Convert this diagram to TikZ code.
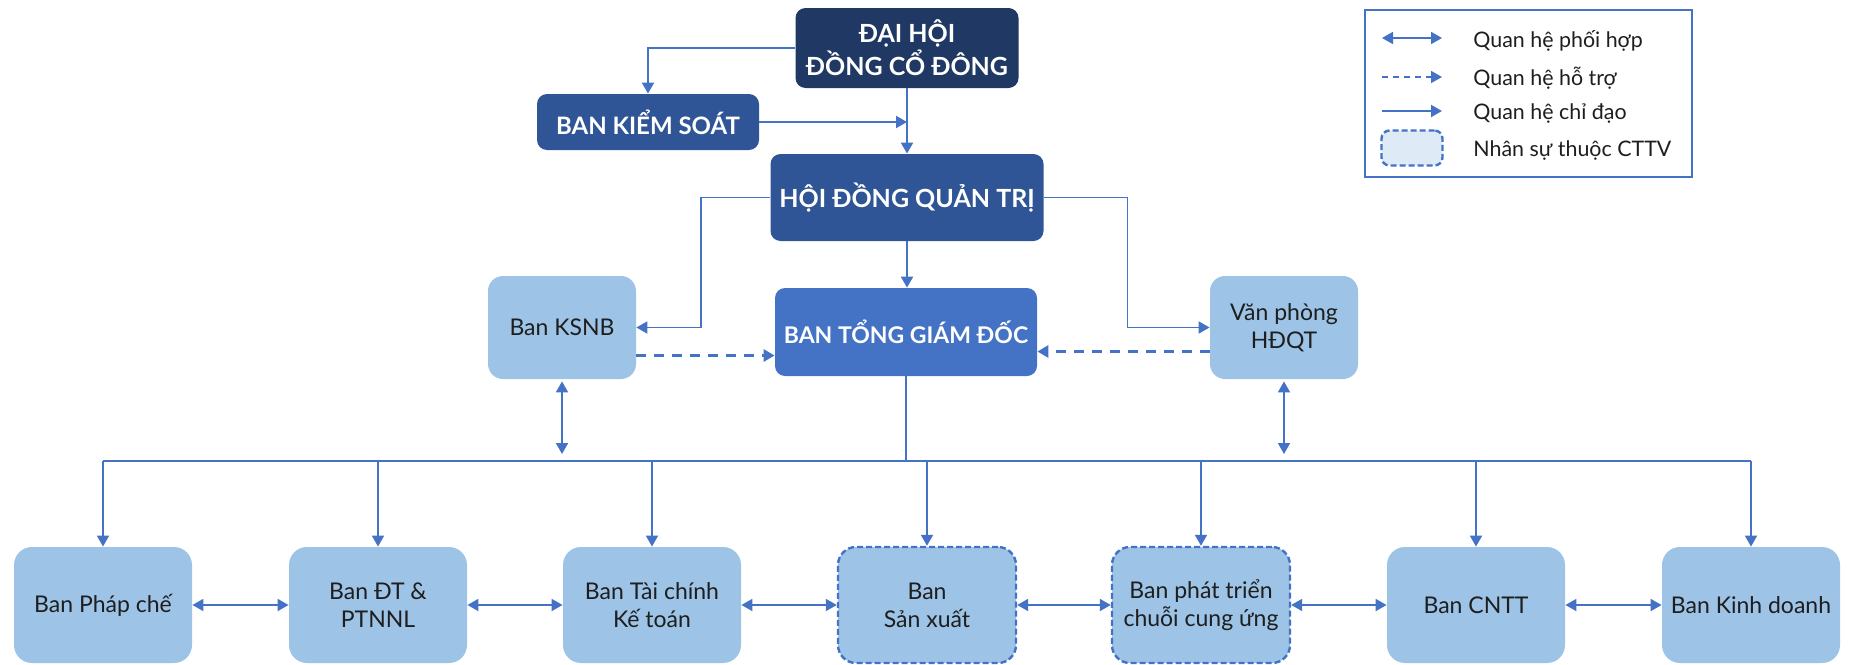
\documentclass[tikz,border=0pt]{standalone}
\usepackage{fontspec}
\setmainfont{Lato}
\usetikzlibrary{positioning,arrows.meta}

\definecolor{navy}{HTML}{203864}
\definecolor{midblue}{HTML}{2F5597}
\definecolor{ceoblue}{HTML}{4472C4}
\definecolor{lightblue}{HTML}{9DC3E6}
\definecolor{paleblue}{HTML}{DEEBF7}
\definecolor{linkblue}{HTML}{4472C4}
\definecolor{textgray}{HTML}{1E1E1E}

\begin{document}
\begin{tikzpicture}[x=0.5pt,y=-0.5pt,
  head/.style={rounded corners=5pt, text=white, font=\fontsize{12.5}{16.5}\selectfont\bfseries, align=center, inner sep=0pt},
  unit/.style={rounded corners=7.5pt, fill=lightblue, text=textgray, font=\fontsize{11.5}{14}\selectfont, align=center, minimum width=74pt, minimum height=51.5pt, inner sep=0pt},
  dept/.style={unit, rounded corners=9pt, minimum width=89pt, minimum height=58pt},
  sub/.style={draw=linkblue, dash pattern=on 3pt off 1.5pt, line width=1.2pt},
  note/.style={anchor=west, inner sep=0pt, text=textgray, font=\fontsize{10.7}{12}\selectfont},
  link/.style={linkblue, line width=0.9pt},
  lead/.style={linkblue, line width=1.1pt, -{Triangle[length=5.5pt,width=6pt]}},
  coop/.style={linkblue, line width=0.9pt, {Triangle[length=5.5pt,width=6pt]}-{Triangle[length=5.5pt,width=6pt]}},
  help/.style={linkblue, line width=1.5pt, dash pattern=on 5pt off 4pt, -{Triangle[length=5.5pt,width=6pt]}}]
  \useasboundingbox (0,0) rectangle (1852,664);

  % top of the chart
  \node[head, fill=navy, minimum width=111.5pt, minimum height=40pt] (dhcd) at (907,48) {ĐẠI HỘI\\ĐỒNG CỔ ĐÔNG};
  \node[head, fill=midblue, minimum width=111pt, minimum height=28pt, font=\fontsize{12}{14}\selectfont\bfseries] (bks) at (648,122) {BAN KIỂM SOÁT};
  \node[head, fill=midblue, minimum width=136.5pt, minimum height=43.5pt] (hdqt) at (907,197.5) {HỘI ĐỒNG QUẢN TRỊ};
  \node[head, fill=ceoblue, minimum width=131pt, minimum height=44pt, font=\fontsize{11.5}{14}\selectfont\bfseries] (btgd) at (906,332) {BAN TỔNG GIÁM ĐỐC};
  \node[unit] (ksnb) at (562,327.5) {Ban KSNB};
  \node[unit] (vp) at (1284,327.5) {Văn phòng\\HĐQT};

  \draw[lead] (dhcd.west) -| (bks.north);
  \draw[lead] (dhcd.south) -- (hdqt.north);
  \draw[lead] (bks.east) -- (bks.east -| hdqt.north);
  \draw[lead] (hdqt.south) -- (hdqt.south |- btgd.north);
  \draw[lead, line width=0.9pt] (hdqt.west) -- ++(-69,0) |- (ksnb.east);
  \draw[lead, line width=0.9pt] (hdqt.east) -- ++(83.5,0) |- (vp.west);
  \draw[help] ([yshift=-14pt]ksnb.east) -- ([yshift=-14pt]ksnb.east -| btgd.west);
  \draw[help] ([yshift=-12pt]vp.west) -- ([yshift=-12pt]vp.west -| btgd.east);

  % departments
  \node[dept] (d1) at (103,605) {Ban Pháp chế};
  \node[dept] (d2) at (378,605) {Ban ĐT \&\\PTNNL};
  \node[dept] (d3) at (652,605) {Ban Tài chính\\Kế toán};
  \node[dept, sub] (d4) at (927,605) {Ban\\Sản xuất};
  \node[dept, sub] (d5) at (1201,605) {Ban phát triển\\chuỗi cung ứng};
  \node[dept] (d6) at (1476,605) {Ban CNTT};
  \node[dept] (d7) at (1751,605) {Ban Kinh doanh};

  \coordinate (bus) at (0,461);
  \draw[link] (btgd.south) -- (btgd.south |- bus);
  \draw[link] (bus -| d1.north) -- (bus -| d7.north);
  \foreach \i in {1,...,7}
    \draw[lead, line width=0.9pt] (bus -| d\i.north) -- (d\i.north);
  \foreach \i [count=\j from 2] in {1,...,6}
    \draw[coop] (d\i.east) -- (d\j.west);
  \draw[coop] ([yshift=-1pt]ksnb.south) -- ([yshift=3.5pt]ksnb.south |- bus);
  \draw[coop] ([yshift=-1pt]vp.south) -- ([yshift=3.5pt]vp.south |- bus);

  % legend
  \node[draw=linkblue, line width=0.8pt, minimum width=163.5pt, minimum height=83.5pt, inner sep=0pt] (leg) at (1528.5,93.5) {};
  \node[note] (l1) at (1473,41) {Quan hệ phối hợp};
  \node[note] (l2) at (1473,78) {Quan hệ hỗ trợ};
  \node[note] (l3) at (1473,114) {Quan hệ chỉ đạo};
  \node[note] (l4) at (1473,151) {Nhân sự thuộc CTTV};
  \draw[coop] ([xshift=-45.5pt,yshift=1.5pt]l1.west) -- ([xshift=-15.5pt,yshift=1.5pt]l1.west);
  \draw[help, line width=0.8pt, dash pattern=on 3pt off 2.5pt] ([xshift=-45.5pt,yshift=0.5pt]l2.west) -- ([xshift=-15.5pt,yshift=0.5pt]l2.west);
  \draw[lead] ([xshift=-45.5pt,yshift=1.5pt]l3.west) -- ([xshift=-15.5pt,yshift=1.5pt]l3.west);
  \node[sub, fill=paleblue, rounded corners=4pt, minimum width=30.5pt, minimum height=17.5pt, inner sep=0pt] (l4box) at (1412,148) {};
\end{tikzpicture}
\end{document}
